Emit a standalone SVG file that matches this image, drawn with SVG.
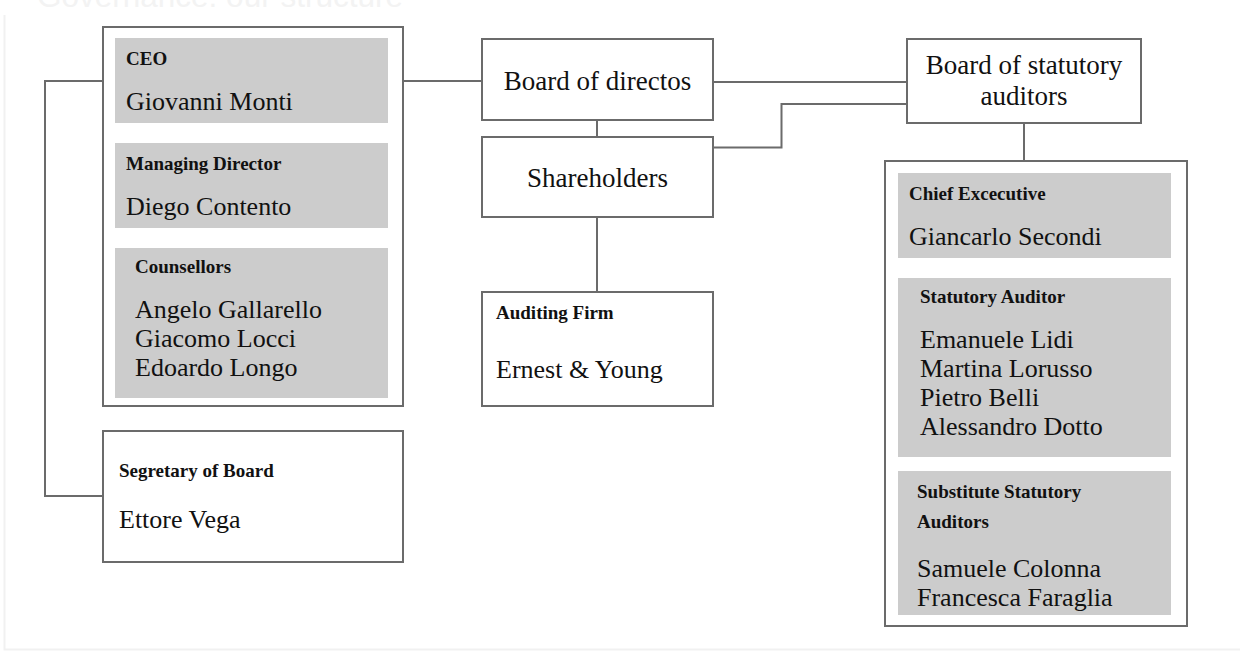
<svg xmlns="http://www.w3.org/2000/svg" width="1244" height="659" viewBox="0 0 1244 659">
<style>
.box{fill:#ffffff;stroke:#6b6b6b;stroke-width:2}
.panel{fill:#cccccc}
.conn{fill:none;stroke:#6b6b6b;stroke-width:2}
.lbl{font-family:"Liberation Serif","DejaVu Serif",serif;font-weight:bold;font-size:19px;fill:#111111}
.nm{font-family:"Liberation Serif","DejaVu Serif",serif;font-size:26px;fill:#111111}
.ttl{font-family:"Liberation Serif","DejaVu Serif",serif;font-size:27px;fill:#111111;text-anchor:middle}
</style>
<rect x="0" y="0" width="1244" height="659" fill="#ffffff"/>
<path d="M4.5,15 V649.5 H1240" fill="none" stroke="#f1f1f1" stroke-width="2"/>
<text x="37" y="7" font-family="Liberation Sans, Arial, sans-serif" font-size="31.5" fill="#f3f3f3">Governance: our structure</text>

<g id="connectors">
<path class="conn" d="M103,81 H45 V496 H103"/>
<path class="conn" d="M403,81 H482"/>
<path class="conn" d="M597,120 V137"/>
<path class="conn" d="M597,217 V292"/>
<path class="conn" d="M713,82 H907"/>
<path class="conn" d="M713,147.5 H781.5 V104 H907"/>
<path class="conn" d="M1024,123 V161"/>
</g>

<g id="board-members">
<rect class="box" x="103" y="27" width="300" height="379"/>
<g id="ceo">
<rect class="panel" x="115" y="38" width="273" height="85"/>
<text class="lbl" x="126" y="65">CEO</text>
<text class="nm" x="126" y="110">Giovanni Monti</text>
</g>
<g id="managing-director">
<rect class="panel" x="115" y="143" width="273" height="85"/>
<text class="lbl" x="126" y="170">Managing Director</text>
<text class="nm" x="126" y="215">Diego Contento</text>
</g>
<g id="counsellors">
<rect class="panel" x="115" y="248" width="273" height="150"/>
<text class="lbl" x="135" y="273">Counsellors</text>
<text class="nm" x="135" y="318">Angelo Gallarello</text>
<text class="nm" x="135" y="347">Giacomo Locci</text>
<text class="nm" x="135" y="376">Edoardo Longo</text>
</g>
</g>

<g id="secretary">
<rect class="box" x="103" y="431" width="300" height="131"/>
<text class="lbl" x="119" y="477">Segretary of Board</text>
<text class="nm" x="119" y="528">Ettore Vega</text>
</g>

<g id="board-of-directors">
<rect class="box" x="482" y="39" width="231" height="81"/>
<text class="ttl" x="597.5" y="90">Board of directos</text>
</g>

<g id="shareholders">
<rect class="box" x="482" y="137" width="231" height="80"/>
<text class="ttl" x="597.5" y="187">Shareholders</text>
</g>

<g id="auditing-firm">
<rect class="box" x="482" y="292" width="231" height="114"/>
<text class="lbl" x="496" y="319">Auditing Firm</text>
<text class="nm" x="496" y="378">Ernest &amp; Young</text>
</g>

<g id="board-of-statutory-auditors">
<rect class="box" x="907" y="39" width="234" height="84"/>
<text class="ttl" x="1024" y="74">Board of statutory</text>
<text class="ttl" x="1024" y="105">auditors</text>
</g>

<g id="auditors-members">
<rect class="box" x="885" y="161" width="302" height="465"/>
<g id="chief-executive">
<rect class="panel" x="898" y="173" width="273" height="85"/>
<text class="lbl" x="909" y="200">Chief Excecutive</text>
<text class="nm" x="909" y="245">Giancarlo Secondi</text>
</g>
<g id="statutory-auditor">
<rect class="panel" x="898" y="278" width="273" height="179"/>
<text class="lbl" x="920" y="303">Statutory Auditor</text>
<text class="nm" x="920" y="348">Emanuele Lidi</text>
<text class="nm" x="920" y="377">Martina Lorusso</text>
<text class="nm" x="920" y="406">Pietro Belli</text>
<text class="nm" x="920" y="435">Alessandro Dotto</text>
</g>
<g id="substitute-auditors">
<rect class="panel" x="898" y="471" width="273" height="144"/>
<text class="lbl" x="917" y="498">Substitute Statutory</text>
<text class="lbl" x="917" y="528">Auditors</text>
<text class="nm" x="917" y="577">Samuele Colonna</text>
<text class="nm" x="917" y="606">Francesca Faraglia</text>
</g>
</g>
</svg>
